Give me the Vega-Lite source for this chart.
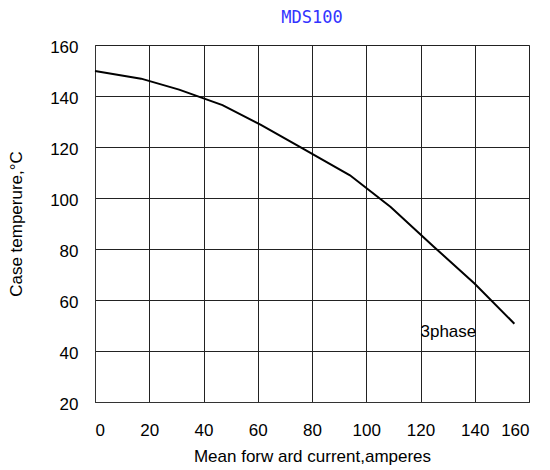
{
  "$schema": "https://vega.github.io/schema/vega-lite/v6.json",
  "width": 434,
  "height": 357,
  "autosize": {"type": "none"},
  "padding": {"left": 95, "top": 45, "right": 21, "bottom": 68},
  "background": "white",
  "title": {
    "text": "MDS100",
    "color": "#3333ff",
    "font": "DejaVu Sans Mono",
    "fontSize": 17,
    "fontWeight": "normal",
    "anchor": "middle",
    "offset": 11
  },
  "datasets": {
    "curve": [
      {"current": 0, "temp": 149.8},
      {"current": 17, "temp": 146.8},
      {"current": 31, "temp": 142.5},
      {"current": 47, "temp": 136.4},
      {"current": 61, "temp": 128.8},
      {"current": 76.5, "temp": 119.5},
      {"current": 94, "temp": 108.9},
      {"current": 109, "temp": 96.5},
      {"current": 125, "temp": 80.8},
      {"current": 140, "temp": 66.4},
      {"current": 154.6, "temp": 50.7}
    ],
    "labels": [
      {"current": 120, "temp": 47.5, "label": "3phase"}
    ]
  },
  "layer": [
    {
      "data": {"name": "curve"},
      "mark": {"type": "line", "color": "black", "strokeWidth": 2},
      "encoding": {
        "x": {
          "field": "current",
          "type": "quantitative",
          "scale": {"domain": [0, 160], "nice": false},
          "axis": {"values": [0, 20, 40, 60, 80, 100, 120, 140, 160], "title": "Mean forw ard current,amperes", "labelPadding": 20, "titlePadding": 10}
        },
        "y": {
          "field": "temp",
          "type": "quantitative",
          "scale": {"domain": [20, 160], "nice": false, "zero": false},
          "axis": {"values": [20, 40, 60, 80, 100, 120, 140, 160], "title": "Case temperure,°C", "labelPadding": 17, "titlePadding": 24, "labelOffset": 2}
        }
      }
    },
    {
      "data": {"name": "labels"},
      "mark": {"type": "text", "align": "left", "baseline": "middle", "font": "Liberation Sans", "fontSize": 17, "color": "black"},
      "encoding": {
        "x": {"field": "current", "type": "quantitative"},
        "y": {"field": "temp", "type": "quantitative"},
        "text": {"field": "label"}
      }
    }
  ],
  "config": {
    "view": {"stroke": "#888888", "strokeWidth": 1},
    "axis": {
      "grid": true,
      "gridColor": "#222222",
      "gridOpacity": 1,
      "gridWidth": 1,
      "domain": true,
      "domainColor": "#333333",
      "ticks": false,
      "labelFont": "Liberation Sans",
      "labelFontSize": 17,
      "labelColor": "black",
      "titleFont": "Liberation Sans",
      "titleFontSize": 17,
      "titleFontWeight": "normal",
      "titleColor": "black"
    }
  }
}
